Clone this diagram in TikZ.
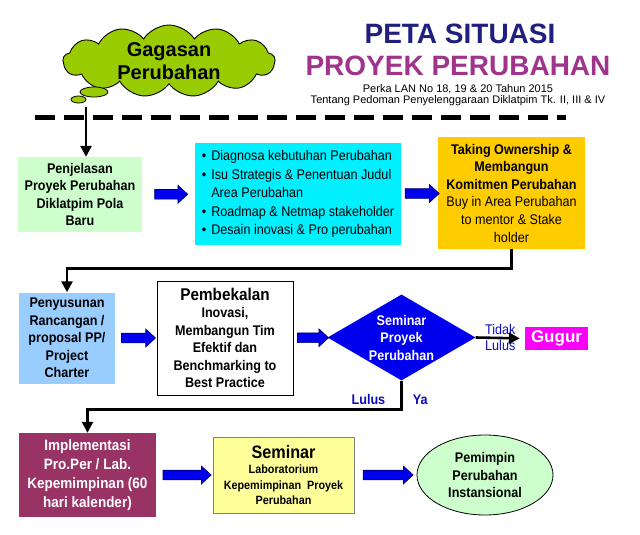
\documentclass[tikz,border=0pt]{standalone}
\usepackage{fontspec}
\setmainfont{Liberation Sans}
\newfontfamily\narrowsans{Liberation Sans}[FakeStretch=0.9]
\usetikzlibrary{arrows.meta,shapes.geometric,shapes.symbols,shapes.arrows,positioning,calc}
\definecolor{TitleBlue}{RGB}{31,31,128}
\definecolor{TitlePurple}{RGB}{160,52,140}
\definecolor{IdeaGreen}{RGB}{153,204,0}
\definecolor{PaleGreen}{RGB}{204,255,204}
\definecolor{BrightCyan}{RGB}{0,240,255}
\definecolor{Amber}{RGB}{255,204,0}
\definecolor{SkyBlue}{RGB}{153,204,255}
\definecolor{Plum}{RGB}{153,51,102}
\definecolor{PaleYellow}{RGB}{255,255,153}
\definecolor{ArrowBlue}{RGB}{0,0,238}
\definecolor{ArrowEdge}{RGB}{0,0,110}
\definecolor{LabelBlue}{RGB}{10,10,190}
\definecolor{Fuchsia}{RGB}{250,0,250}

\begin{document}
\begin{tikzpicture}[
    x=1pt,y=-1pt,
    box/.style={inner sep=0pt,align=center,
                font=\narrowsans\bfseries\fontsize{14}{17.5}\selectfont},
    conn/.style={line width=2.6pt,-{Triangle[length=11pt,width=11pt]}},
    bluearrow/.style={single arrow,fill=ArrowBlue,draw=ArrowEdge,line width=0.7pt,
                inner xsep=0pt,inner ysep=4.5pt,single arrow head extend=4pt,
                single arrow tip angle=85,minimum width=0pt},
    lbl/.style={inner sep=0pt,text=LabelBlue,font=\narrowsans\fontsize{14}{16}\selectfont}
  ]
    \useasboundingbox (0,0) rectangle (640,535);

    % idea cloud and heading
    \node[cloud,cloud puffs=13,cloud puff arc=115,cloud ignores aspect,
          minimum width=212pt,minimum height=72pt,inner sep=0pt,
          fill=IdeaGreen,draw=black,line width=0.9pt,align=center,
          font=\bfseries\fontsize{20}{23}\selectfont] (idea) at (169,61)
      {Gagasan\\Perubahan};
    \node[ellipse,fill=IdeaGreen,draw=black,line width=0.8pt,inner sep=0pt,
          minimum width=28pt,minimum height=10pt] (puffA) at (94,92) {};
    \node[ellipse,fill=IdeaGreen,draw=black,line width=0.8pt,inner sep=0pt,
          minimum width=15pt,minimum height=7pt] (puffB) at (78.5,99.5) {};
    \node[font=\bfseries\fontsize{28}{28}\selectfont,text=TitleBlue,inner sep=0pt]
      (ttl) at (460,34) {PETA SITUASI};
    \node[font=\bfseries\fontsize{28}{28}\selectfont,text=TitlePurple,inner sep=0pt]
      (sub) at (458,66) {PROYEK PERUBAHAN};
    \node[font=\fontsize{11}{13}\selectfont,inner sep=0pt] (perka) at (458,89)
      {Perka LAN No 18, 19 \& 20 Tahun 2015};
    \node[font=\fontsize{11}{13}\selectfont,inner sep=0pt] (tentang) at (458,101)
      {Tentang Pedoman Penyelenggaraan Diklatpim Tk. II, III \& IV};
    \draw[line width=5pt,dash pattern=on 20pt off 9pt] (35,117) -- (566,117);

    % first row
    \node[box,fill=PaleGreen,minimum width=124pt,minimum height=75pt] (pjl) at (80,194.5)
      {Penjelasan\\Proyek Perubahan\\Diklatpim Pola\\Baru};
    \node[box,font=\narrowsans\fontsize{14}{18.5}\selectfont,align=left,fill=BrightCyan,
          minimum width=206pt,minimum height=102pt] (diag) at (298,194)
      {\textbullet\hspace{5pt}Diagnosa kebutuhan Perubahan\\
       \textbullet\hspace{5pt}Isu Strategis \& Penentuan Judul\\
       \phantom{\textbullet}\hspace{5pt}Area Perubahan\\
       \textbullet\hspace{5pt}Roadmap \& Netmap stakeholder\\
       \textbullet\hspace{5pt}Desain inovasi \& Pro perubahan};
    \node[box,font=\narrowsans\fontsize{14}{17.6}\selectfont,fill=Amber,
          minimum width=147pt,minimum height=112pt] (own) at (511.5,193)
      {\textbf{Taking Ownership \&}\\\textbf{Membangun}\\\textbf{Komitmen Perubahan}\\
       Buy in Area Perubahan\\to mentor \& Stake\\holder};
    \coordinate (tail) at (86,107);
    \draw[conn] (tail) -- (tail |- pjl.north);
    \node[bluearrow,minimum height=33pt] (a1) at ($(pjl.east)!.5!(diag.west)$) {};
    \node[bluearrow,minimum height=34pt] (a2) at ($(diag.east)!.5!(own.west)$) {};

    % second row
    \node[box,fill=SkyBlue,minimum width=96pt,minimum height=91pt] (rcg) at (67,338)
      {Penyusunan\\Rancangan /\\proposal PP/\\Project\\Charter};
    \node[box,fill=white,draw=black,line width=1pt,
          minimum width=136pt,minimum height=114pt] (pmb) at (225,338)
      {{\fontsize{17}{20}\selectfont Pembekalan}\\Inovasi,\\Membangun Tim\\Efektif dan\\
       Benchmarking to\\Best Practice};
    \node[diamond,fill=ArrowBlue,inner sep=-6pt,aspect=1.7,
          minimum width=148pt,minimum height=86pt,
          text=white,align=center,font=\narrowsans\bfseries\fontsize{14}{17.5}\selectfont]
      (sem) at (401.5,337.5) {Seminar\\Proyek\\Perubahan};
    \node[fill=Fuchsia,text=white,inner sep=0pt,minimum width=63pt,minimum height=23pt,
          font=\bfseries\fontsize{17}{17}\selectfont] (ggr) at (556.5,338.5) {Gugur};
    \draw[conn] (own.south) -- ++(0,19) -| (rcg.north);
    \node[bluearrow,minimum height=34pt] (a3) at ($(rcg.east)!.5!(pmb.west)$) {};
    \node[bluearrow,minimum height=31pt] (a4) at ($(pmb.east)!.5!(sem.west)$) {};
    \draw[conn,shorten >=5pt] (sem.east) -- (ggr.west)
      node[lbl,midway,above=2pt] {Tidak} node[lbl,midway,below=1pt] {Lulus};

    % third row
    \node[box,fill=Plum,text=white,font=\narrowsans\bfseries\fontsize{15}{19}\selectfont,
          minimum width=137pt,minimum height=84pt] (imp) at (87.5,475)
      {Implementasi\\Pro.Per / Lab.\\Kepemimpinan (60\\hari kalender)};
    \node[box,fill=PaleYellow,draw=gray,line width=0.6pt,
          font=\narrowsans\bfseries\fontsize{12}{15.5}\selectfont,
          minimum width=141pt,minimum height=76pt] (smn) at (283.5,475)
      {{\fontsize{18}{20}\selectfont Seminar}\\Laboratorium\\Kepemimpinan~~Proyek\\Perubahan};
    \node[ellipse,box,fill=PaleGreen,draw=black,line width=0.8pt,
          minimum width=136pt,minimum height=80pt] (pmp) at (485,475)
      {Pemimpin\\Perubahan\\Instansional};
    \draw[conn] (sem.south) -- ++(0,29)
      node[lbl,font=\narrowsans\bfseries\fontsize{14}{16}\selectfont,pos=.65,right=10pt] {Ya}
      node[lbl,font=\narrowsans\bfseries\fontsize{14}{16}\selectfont,pos=.65,left=15pt] {Lulus}
      -| (imp.north);
    \node[bluearrow,minimum height=48pt] (a5) at ($(imp.east)!.5!(smn.west)$) {};
    \node[bluearrow,minimum height=50pt] (a6) at ($(smn.east)!.5!(pmp.west)$) {};
  \end{tikzpicture}
\end{document}
